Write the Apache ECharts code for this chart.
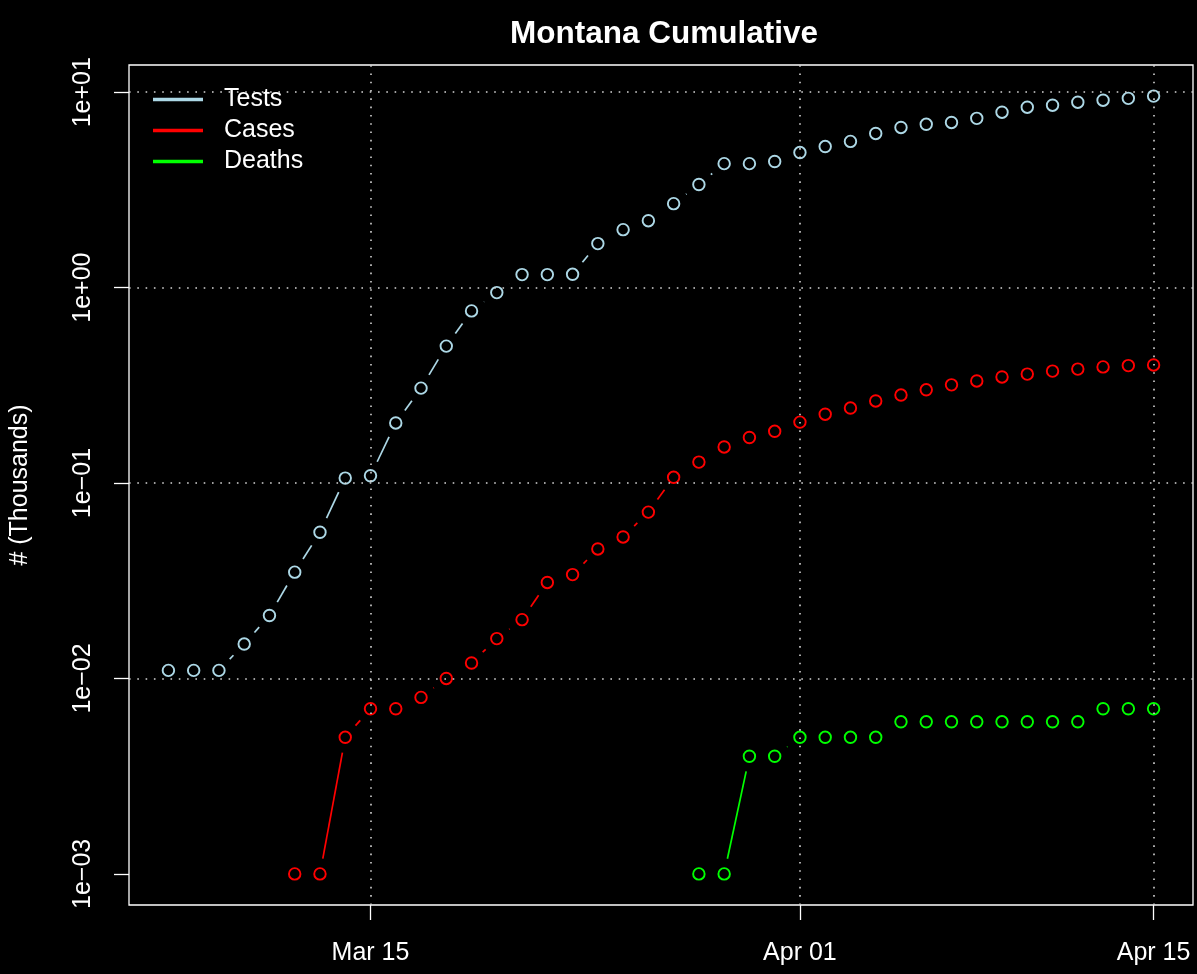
<!DOCTYPE html>
<html><head><meta charset="utf-8">
<script src="https://cdn.jsdelivr.net/npm/echarts@6/dist/echarts.min.js"></script>
<style>html,body{margin:0;padding:0;background:#000;}#c{width:1197px;height:974px;}</style>
</head><body><div id="c"></div>
<script>
const dates = ['2020-03-07','2020-03-08','2020-03-09','2020-03-10','2020-03-11','2020-03-12','2020-03-13','2020-03-14','2020-03-15','2020-03-16',
 '2020-03-17','2020-03-18','2020-03-19','2020-03-20','2020-03-21','2020-03-22','2020-03-23','2020-03-24','2020-03-25','2020-03-26',
 '2020-03-27','2020-03-28','2020-03-29','2020-03-30','2020-03-31','2020-04-01','2020-04-02','2020-04-03','2020-04-04','2020-04-05',
 '2020-04-06','2020-04-07','2020-04-08','2020-04-09','2020-04-10','2020-04-11','2020-04-12','2020-04-13','2020-04-14','2020-04-15'];
const tests = [0.011,0.011,0.011,0.015,0.021,0.035,0.056,0.106,0.109,0.203,
 0.306,0.502,0.76,0.943,1.166,1.166,1.17,1.68,1.98,2.2,
 2.69,3.37,4.31,4.31,4.42,4.91,5.27,5.6,6.15,6.6,
 6.85,7.0,7.35,7.9,8.38,8.58,8.89,9.1,9.3,9.55];
const cases = [null,null,null,null,null,0.001,0.001,0.005,0.007,0.007,
 0.008,0.010,0.012,0.016,0.020,0.031,0.034,0.046,0.053,0.071,
 0.107,0.128,0.153,0.171,0.184,0.205,0.225,0.242,0.263,0.282,
 0.300,0.318,0.333,0.349,0.361,0.374,0.383,0.393,0.399,0.402];
const deaths = [null,null,null,null,null,null,null,null,null,null,
 null,null,null,null,null,null,null,null,null,null,
 null,0.001,0.001,0.004,0.004,0.005,0.005,0.005,0.005,0.006,
 0.006,0.006,0.006,0.006,0.006,0.006,0.006,0.007,0.007,0.007];
const seriesNames = ['Tests','Cases','Deaths'];
const seriesColors = ['#ADD8E6','#FF0000','#00FF00'];
const xTicks = ['2020-03-15','2020-04-01','2020-04-15'];
const xTickLabels = ['Mar 15','Apr 01','Apr 15'];
const yTicks = [0.001,0.01,0.1,1,10];
const yTickLabels = ['1e\u221203','1e\u221202','1e\u221201','1e+00','1e+01'];

const FONT = "'Liberation Sans', Arial, Helvetica, sans-serif";
const DAY = 86400000;
const GAP = 15.5;
function toTime(s){const p=s.split('-').map(Number);return Date.UTC(p[0],p[1]-1,p[2]);}
const times = dates.map(toTime);
const xTickTimes = xTicks.map(toTime);
const xSpan = times[times.length-1]-times[0];
const xMin = times[0]-0.04*xSpan, xMax = times[times.length-1]+0.04*xSpan;
const allVals = tests.concat(cases, deaths).filter(v=>v!=null);
const lo = Math.log10(Math.min.apply(null,allVals)), hi = Math.log10(Math.max.apply(null,allVals));
const yMin = Math.pow(10, lo-0.04*(hi-lo)), yMax = Math.pow(10, hi+0.04*(hi-lo));

const allSeries = [tests, cases, deaths];
const series = [];
series.push({type:'scatter', name:'grid', data:[], silent:true, z:1,
  markLine:{silent:true, symbol:'none', label:{show:false}, animation:false,
    lineStyle:{color:'#D3D3D3', width:1.6, type:[1.6,6.7], opacity:1},
    emphasis:{disabled:true},
    data: xTickTimes.map(t=>({xAxis:t})).concat(yTicks.map(v=>({yAxis:v})))}});
allSeries.forEach((vals, k)=>{
  const color = seriesColors[k];
  const pts = [];
  vals.forEach((v,i)=>{ if(v!=null) pts.push([times[i], v]); });
  const segs = [];
  vals.forEach((v,i)=>{ if(i>0 && v!=null && vals[i-1]!=null) segs.push([times[i-1], vals[i-1], times[i], v]); });
  series.push({type:'custom', name:seriesNames[k]+' line', coordinateSystem:'cartesian2d', silent:true, z:3,
    data: segs, encode:{x:[0,2], y:[1,3]},
    renderItem(params, api){
      const p0 = api.coord([api.value(0), api.value(1)]);
      const p1 = api.coord([api.value(2), api.value(3)]);
      const dx=p1[0]-p0[0], dy=p1[1]-p0[1], len=Math.hypot(dx,dy);
      if(len <= 2*GAP) return null;
      const ux=dx/len, uy=dy/len;
      return {type:'line', shape:{x1:p0[0]+ux*GAP, y1:p0[1]+uy*GAP, x2:p1[0]-ux*GAP, y2:p1[1]-uy*GAP},
        style:{stroke:color, lineWidth:1.7, fill:null, opacity:1}};
    }});
  series.push({type:'scatter', name:seriesNames[k], data:pts, symbol:'circle', symbolSize:11.5, z:4,
    itemStyle:{color:'rgba(0,0,0,0)', borderColor:color, borderWidth:1.9, opacity:1},
    emphasis:{disabled:true}});
});

const chart = echarts.init(document.getElementById('c'), null, {renderer:'canvas'});
chart.setOption({
  backgroundColor:'#000',
  animation:false,
  textStyle:{fontFamily:FONT},
  title:{text:'Montana Cumulative', left:659, textAlign:'center', top:13,
    textStyle:{color:'#fff', fontSize:31.5, fontWeight:'bold', fontFamily:FONT}},
  legend:{left:148, top:82, orient:'vertical', itemWidth:50, itemHeight:3.5, itemGap:6, icon:'rect',
    selectedMode:false,
    textStyle:{color:'#fff', fontSize:25, lineHeight:25, fontFamily:FONT, padding:[0,0,0,16]},
    data: seriesNames.map((n,k)=>({name:n, itemStyle:{color:seriesColors[k], borderWidth:0, opacity:1}}))},
  grid:{left:129, right:4, top:65, bottom:69, show:true, borderColor:'#fff', borderWidth:1.3, backgroundColor:'transparent', containLabel:false},
  xAxis:{type:'value', min:xMin, max:xMax, scale:true,
    axisLine:{show:false},
    splitLine:{show:false},
    axisTick:{show:true, customValues:xTickTimes, length:15, lineStyle:{color:'#fff', width:1.3}},
    axisLabel:{customValues:xTickTimes, color:'#fff', fontSize:25, margin:36, fontFamily:FONT,
      formatter:(v)=>{const i=xTickTimes.findIndex(t=>Math.abs(t-v)<DAY/2);return i>=0?xTickLabels[i]:'';}}},
  yAxis:{type:'log', logBase:10, min:yMin, max:yMax,
    name:'# (Thousands)', nameLocation:'middle', nameGap:96,
    nameTextStyle:{color:'#fff', fontSize:25, fontFamily:FONT},
    axisLine:{show:false},
    splitLine:{show:false},
    axisTick:{show:true, customValues:yTicks, length:15, lineStyle:{color:'#fff', width:1.3}},
    axisLabel:{customValues:yTicks, rotate:90, color:'#fff', fontSize:25, margin:33, fontFamily:FONT,
      formatter:(v)=>{const i=yTicks.findIndex(t=>Math.abs(v/t-1)<1e-6);return i>=0?yTickLabels[i]:'';}}},
  series: series
});
</script></body></html>
